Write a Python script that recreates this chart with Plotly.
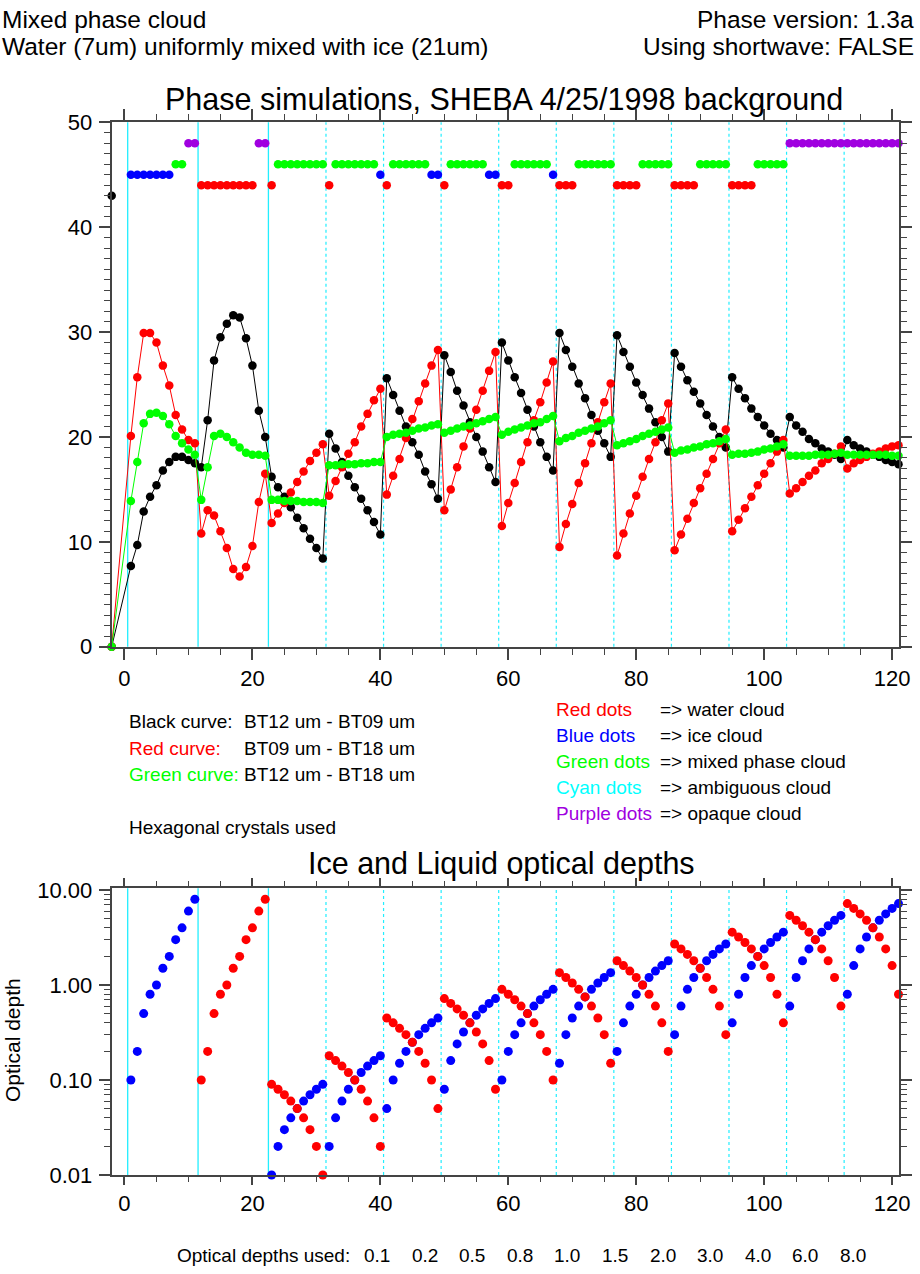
import plotly.graph_objects as go

W, H = 920, 1274

# ---------------- data ----------------
x_top = [-2] + list(range(1, 122))

black_curve = [0,
    7.7, 9.7, 12.9, 14.3, 15.4, 16.8, 17.6, 18.1, 18.1, 17.8, 17.5,
    17.1, 21.6, 27.3, 29.5, 30.8, 31.6, 31.4, 29.4, 26.8, 22.5, 20.0,
    16.2, 15.2, 14.3, 13.3, 12.3, 11.3, 10.3, 9.4, 8.4,
    20.3, 18.9, 17.6, 16.3, 15.2, 14.1, 13.0, 11.9, 10.7,
    25.6, 24.0, 22.5, 21.0, 19.5, 18.3, 16.7, 15.5, 14.1,
    27.8, 26.2, 24.4, 23.0, 21.4, 20.0, 18.6, 17.1, 15.7,
    29.0, 27.3, 25.7, 24.2, 22.6, 21.0, 19.5, 18.1, 16.8,
    29.9, 28.3, 26.7, 25.1, 23.7, 22.1, 20.6, 19.4, 18.1,
    29.7, 28.1, 26.7, 25.2, 24.0, 22.7, 21.4, 20.0, 18.6,
    28.0, 26.7, 25.4, 24.3, 23.2, 22.1, 21.0, 20.0, 19.0,
    25.7, 24.6, 23.7, 22.7, 21.9, 21.1, 20.3, 19.7, 19.0,
    21.9, 21.1, 20.5, 19.8, 19.4, 18.9, 18.6, 18.3, 17.9,
    19.7, 19.2, 18.9, 18.6, 18.3, 18.1, 17.8, 17.6, 17.4]

red_curve = [0,
    20.1, 25.7, 29.9, 29.9, 29.0, 26.8, 24.9, 22.1, 20.7, 19.7, 19.4,
    10.8, 13.0, 12.5, 11.0, 9.4, 7.4, 6.7, 7.6, 9.6, 13.8, 16.5,
    11.8, 12.7, 13.7, 14.7, 15.7, 16.7, 17.7, 18.5, 19.3,
    14.4, 15.8, 17.1, 18.4, 19.5, 21.0, 22.2, 23.5, 24.6,
    14.5, 16.3, 17.9, 19.9, 21.7, 23.4, 25.1, 26.8, 28.3,
    13.0, 15.0, 17.1, 19.1, 20.8, 22.6, 24.4, 26.3, 28.1,
    11.5, 13.7, 15.6, 17.6, 19.5, 21.6, 23.3, 25.2, 27.2,
    9.5, 11.7, 13.6, 15.6, 17.5, 19.4, 21.4, 23.3, 25.1,
    8.7, 10.8, 12.7, 14.4, 16.2, 17.9, 19.5, 21.6, 23.2,
    9.2, 10.7, 12.2, 13.7, 15.1, 16.5, 17.9, 19.4, 20.7,
    11.0, 12.1, 13.2, 14.3, 15.4, 16.5, 17.5, 18.6, 19.7,
    14.6, 15.1, 15.7, 16.3, 16.8, 17.5, 17.9, 18.4, 19.1,
    17.0, 17.5, 17.8, 18.1, 18.4, 18.6, 18.9, 19.1, 19.2]

green_curve = [0,
    13.9, 17.6, 21.3, 22.2, 22.3, 22.0, 21.2, 20.1, 19.4, 18.8, 18.3,
    14.0, 17.1, 20.1, 20.3, 20.0, 19.5, 19.0, 18.5, 18.3, 18.3, 18.2,
    14.0, 14.0, 13.9, 13.9, 13.9, 13.8, 13.8, 13.8, 13.7,
    17.3, 17.3, 17.4, 17.4, 17.4, 17.5, 17.5, 17.6, 17.6,
    20.0, 20.2, 20.3, 20.4, 20.6, 20.8, 20.9, 21.1, 21.2,
    20.4, 20.6, 20.8, 21.0, 21.1, 21.3, 21.5, 21.7, 21.9,
    20.2, 20.5, 20.7, 20.9, 21.1, 21.3, 21.4, 21.7, 22.0,
    19.6, 19.9, 20.1, 20.4, 20.6, 20.8, 21.0, 21.3, 21.6,
    19.2, 19.4, 19.6, 19.8, 20.1, 20.3, 20.5, 20.7, 20.9,
    18.5, 18.7, 18.8, 19.0, 19.1, 19.3, 19.4, 19.6, 19.8,
    18.3, 18.4, 18.4, 18.5, 18.6, 18.8, 18.9, 19.1, 19.3,
    18.2, 18.2, 18.2, 18.2, 18.3, 18.3, 18.3, 18.4, 18.5,
    18.3, 18.3, 18.3, 18.3, 18.3, 18.3, 18.3, 18.2, 18.2]

# phase class of each point (K clear, R water, B ice, G mixed, C ambiguous, P opaque)
phase_codes = ("K"
    "BBBBBBBGGPP"
    "RRRRRRRRRPP"
    "RGGGGGGGG"
    "RGGGGGGGB"
    "RGGGGGGBB"
    "RGGGGGGBB"
    "RRGGGGGGB"
    "RRRGGGGGG"
    "RRRRGGGGG"
    "RRRRGGGGG"
    "RRRRGGGGG"
    "PPPPPPPPP"
    "PPPPPPPPP")
phase_levels = {"K": 43, "R": 44, "B": 45, "G": 46, "C": 47, "P": 48}

od_x = list(range(1, 122))
ice_od = [0.1, 0.2, 0.5, 0.8, 1.0, 1.5, 2.0, 3.0, 4.0, 6.0, 8.0,
    None, None, None, None, None, None, None, None, None, None, None,
    0.01, 0.02, 0.03, 0.04, 0.05, 0.06, 0.07, 0.08, 0.09,
    0.02, 0.04, 0.06, 0.08, 0.10, 0.12, 0.14, 0.16, 0.18,
    0.05, 0.10, 0.15, 0.20, 0.25, 0.30, 0.35, 0.40, 0.45,
    0.08, 0.16, 0.24, 0.32, 0.40, 0.48, 0.56, 0.64, 0.72,
    0.1, 0.2, 0.3, 0.4, 0.5, 0.6, 0.7, 0.8, 0.9,
    0.15, 0.30, 0.45, 0.60, 0.75, 0.90, 1.05, 1.20, 1.35,
    0.2, 0.4, 0.6, 0.8, 1.0, 1.2, 1.4, 1.6, 1.8,
    0.3, 0.6, 0.9, 1.2, 1.5, 1.8, 2.1, 2.4, 2.7,
    0.4, 0.8, 1.2, 1.6, 2.0, 2.4, 2.8, 3.2, 3.6,
    0.6, 1.2, 1.8, 2.4, 3.0, 3.6, 4.2, 4.8, 5.4,
    0.8, 1.6, 2.4, 3.2, 4.0, 4.8, 5.6, 6.4, 7.2]
liq_od = [None, None, None, None, None, None, None, None, None, None, None,
    0.1, 0.2, 0.5, 0.8, 1.0, 1.5, 2.0, 3.0, 4.0, 6.0, 8.0,
    0.09, 0.08, 0.07, 0.06, 0.05, 0.04, 0.03, 0.02, 0.01,
    0.18, 0.16, 0.14, 0.12, 0.10, 0.08, 0.06, 0.04, 0.02,
    0.45, 0.40, 0.35, 0.30, 0.25, 0.20, 0.15, 0.10, 0.05,
    0.72, 0.64, 0.56, 0.48, 0.40, 0.32, 0.24, 0.16, 0.08,
    0.9, 0.8, 0.7, 0.6, 0.5, 0.4, 0.3, 0.2, 0.1,
    1.35, 1.20, 1.05, 0.90, 0.75, 0.60, 0.45, 0.30, 0.15,
    1.8, 1.6, 1.4, 1.2, 1.0, 0.8, 0.6, 0.4, 0.2,
    2.7, 2.4, 2.1, 1.8, 1.5, 1.2, 0.9, 0.6, 0.3,
    3.6, 3.2, 2.8, 2.4, 2.0, 1.6, 1.2, 0.8, 0.4,
    5.4, 4.8, 4.2, 3.6, 3.0, 2.4, 1.8, 1.2, 0.6,
    7.2, 6.4, 5.6, 4.8, 4.0, 3.2, 2.4, 1.6, 0.8]

seg_bounds = [0.5, 11.5, 22.5, 31.5, 40.5, 49.5, 58.5, 67.5, 76.5, 85.5, 94.5, 103.5, 112.5]
solid_bounds = 3
od_used = ["0.1", "0.2", "0.5", "0.8", "1.0", "1.5", "2.0", "3.0", "4.0", "6.0", "8.0"]

# ---------------- styles ----------------
FONT = "Liberation Sans, Arial, Helvetica, sans-serif"
C_BLACK, C_RED, C_GREEN = "#000000", "#FF0000", "#00FF00"
C_BLUE, C_CYAN, C_PURPLE = "#0000FF", "#00FFFF", "#A000E0"
phase_colors = {"K": C_BLACK, "R": C_RED, "B": C_BLUE, "G": C_GREEN, "C": C_CYAN, "P": C_PURPLE}
AX = "#444444"
MS = 8.5
XR = [-2.0, 121.0]


def fx(px):
    return px / W


def fy(py):
    return 1 - py / H


fig = go.Figure()

# curves
for ys, col in [(black_curve, C_BLACK), (red_curve, C_RED), (green_curve, C_GREEN)]:
    fig.add_trace(go.Scatter(x=x_top, y=ys, mode="lines+markers", cliponaxis=False,
                             line=dict(color=col, width=1),
                             marker=dict(color=col, size=MS, line=dict(width=0)),
                             xaxis="x", yaxis="y", showlegend=False, hoverinfo="skip"))

# phase dots
for code in ["K", "R", "B", "G", "C", "P"]:
    xs = [x for x, c in zip(x_top, phase_codes) if c == code]
    if not xs:
        continue
    fig.add_trace(go.Scatter(x=xs, y=[phase_levels[code]] * len(xs), mode="markers",
                             cliponaxis=False,
                             marker=dict(color=phase_colors[code], size=MS, line=dict(width=0)),
                             xaxis="x", yaxis="y", showlegend=False, hoverinfo="skip"))

# optical depths
for ys, col in [(ice_od, C_BLUE), (liq_od, C_RED)]:
    fig.add_trace(go.Scatter(x=od_x, y=ys, mode="markers", cliponaxis=False,
                             marker=dict(color=col, size=9, line=dict(width=0)),
                             xaxis="x2", yaxis="y2", showlegend=False, hoverinfo="skip"))

# segment boundaries
shapes = []
for i, b in enumerate(seg_bounds):
    for xr, yr in [("x", "y domain"), ("x2", "y2 domain")]:
        shapes.append(dict(type="line", xref=xr, yref=yr, x0=b, x1=b, y0=0, y1=1,
                           layer="below",
                           line=dict(color="#22EEFF", width=1.3 if i < solid_bounds else 1.2,
                                     dash="solid" if i < solid_bounds else "3px,3px")))

xdom = [fx(111.7), fx(898.5)]
common = dict(showgrid=False, zeroline=False, showline=True, linecolor=AX, linewidth=2,
              mirror="ticks", ticks="outside", tickcolor=AX, tickwidth=1.5,
              tickfont=dict(family=FONT, size=22, color="black"), automargin=False)

fig.update_layout(
    width=W, height=H, margin=dict(l=0, r=0, t=0, b=0),
    paper_bgcolor="white", plot_bgcolor="white", showlegend=False,
    shapes=shapes,
    xaxis=dict(domain=xdom, range=XR, anchor="y", dtick=20, tick0=0, ticklen=11,
               minor=dict(ticks="outside", dtick=5, tick0=0, ticklen=6, tickcolor=AX, tickwidth=1.2),
               ticklabelstandoff=0, **common),
    yaxis=dict(domain=[fy(646.7), fy(122.3)], range=[0, 50], anchor="x", dtick=10, tick0=0, ticklen=11,
               minor=dict(ticks="outside", dtick=1, tick0=0, ticklen=6, tickcolor=AX, tickwidth=1.2),
               ticklabelstandoff=2, **common),
    xaxis2=dict(domain=xdom, range=XR, anchor="y2", dtick=20, tick0=0, ticklen=8,
                minor=dict(ticks="outside", dtick=5, tick0=0, ticklen=5, tickcolor=AX, tickwidth=1.2),
                ticklabelstandoff=0, **common),
    yaxis2=dict(domain=[fy(1175), fy(888.3)], type="log", range=[-2, 1.018], anchor="x2",
                tickvals=[0.01, 0.1, 1, 10], ticktext=["0.01", "0.10", "1.00", "10.00"], ticklen=11,
                minor=dict(ticks="outside", ticklen=6, tickcolor=AX, tickwidth=1.2,
                           tickvals=[m * d for d in [0.01, 0.1, 1] for m in range(2, 10)]),
                ticklabelstandoff=2, **common),
)

ann = []


def text(s, px, py, size, color="black", xa="left", angle=0):
    ann.append(dict(text=s, x=fx(px), y=fy(py), xref="paper", yref="paper", showarrow=False,
                    xanchor=xa, yanchor="middle", textangle=angle,
                    font=dict(family=FONT, size=size, color=color)))


text("Mixed phase cloud", 0, 19, 24.5)
text("Water (7um) uniformly mixed with ice (21um)", 0, 46, 24.5)
text("Phase version: 1.3a", 916, 19, 24.5, xa="right")
text("Using shortwave: FALSE", 916, 46, 24.5, xa="right")
text("Phase simulations, SHEBA 4/25/1998 background", 504, 100, 30.5, xa="center")

text("Black curve:", 127, 721, 19)
text("BT12 um - BT09 um", 242, 721, 19)
text("Red curve:", 127, 748, 19, C_RED)
text("BT09 um - BT18 um", 242, 748, 19)
text("Green curve:", 127, 774, 19, C_GREEN)
text("BT12 um - BT18 um", 242, 774, 19)
text("Hexagonal crystals used", 127, 827, 19)

legend_rows = [("Red dots", C_RED, "=> water cloud"), ("Blue dots", C_BLUE, "=> ice cloud"),
               ("Green dots", C_GREEN, "=> mixed phase cloud"), ("Cyan dots", C_CYAN, "=> ambiguous cloud"),
               ("Purple dots", C_PURPLE, "=> opaque cloud")]
for i, (lab, col, desc) in enumerate(legend_rows):
    yy = 709 + i * 26.1
    text(lab, 554, yy, 19, col)
    text(desc, 658, yy, 19)

text("Ice and Liquid optical depths", 502, 863, 30.5, xa="center")
text("Optical depth", 12, 1040, 21, xa="center", angle=-90)

text("Optical depths used:", 175, 1255, 19)
for i, v in enumerate(od_used):
    text(v, 377 + i * 47.6, 1255, 19, xa="center")

fig.update_layout(annotations=ann)
fig.write_html("out.html")
